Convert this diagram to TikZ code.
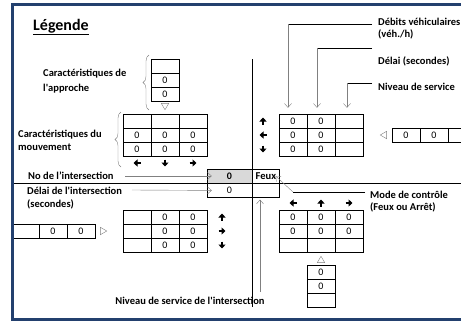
\documentclass[tikz,border=0pt]{standalone}
\usepackage{fontspec}
\setmainfont{Carlito}
\usepackage{tikz}
\usetikzlibrary{shapes.geometric, positioning, arrows.meta, calc, decorations.pathreplacing}
\definecolor{frameblue}{RGB}{35,64,110}
\definecolor{cellgray}{RGB}{217,217,217}

\begin{document}
\begin{tikzpicture}[
        x=1pt, y=-1pt,
        node distance=0pt,
        cell/.style={draw, rectangle, minimum width=28pt, minimum height=14pt, inner sep=0pt, font=\fontsize{10}{10}\selectfont},
        lbl/.style={anchor=west, align=left, inner sep=0pt, font=\bfseries\fontsize{10.5}{12.5}\selectfont},
        garr/.style={-{Straight Barb[length=4pt, width=7pt]}, gray},
        mv/.style={-{Triangle[length=4pt, width=7pt]}, line width=2.6pt},
        tri/.style={draw=gray, regular polygon, regular polygon sides=3, minimum size=8.5pt, inner sep=0pt},
        brc/.style={decorate, decoration={brace, amplitude=6pt}, gray}
    ]
    \useasboundingbox (0,0) rectangle (461,322);
    \clip (0,0) rectangle (461,322);

    % Axes
    \draw (12,183) -- (470,183);
    \draw (252,59) -- (252,307);

    % Legend title
    \node[anchor=west, inner sep=0pt, font=\bfseries\fontsize{16}{16}\selectfont] (title) at (33,27) {\underline{Légende}};

    % North approach
    \foreach \t [count=\r] in {{},0,0}
        \node[cell] (na\r) at (165,52+14*\r) {\t};
    \node[tri, shape border rotate=180] (na-tri) [below=2pt of na3] {};
    \draw[brc] (149,110) -- (149,55);
    \node[lbl] (capp) at (43,81) {Caractéristiques de\\[3pt]l\textquotesingle approche};

    % North movements
    \foreach \t [count=\r] in {{},0,0}
        \foreach \c/\x in {1/137,2/165,3/193}
            \node[cell] (nm\r\c) at (\x,107+14*\r) {\t};
    \foreach \x/\dx/\dy in {137/-1/0,165/0/1,193/1/0}
        \draw[mv] (\x-3.5*\dx,163-3.5*\dy) -- ++(7*\dx,7*\dy);
    \draw[brc] (121,167) -- (121,112);
    \node[lbl] (cmvt) at (18,140.5) {Caractéristiques du\\mouvement};

    % East movements
    \foreach \r in {1,2,3}
        \foreach \c/\x/\t in {1/293/0,2/321/0,3/349/{}}
            \node[cell] (em\r\c) at (\x,107+14*\r) {\t};
    \foreach \y/\dx/\dy in {121/0/-1,135/-1/0,149/0/1}
        \draw[mv] (263-3.5*\dx,\y-3.5*\dy) -- ++(7*\dx,7*\dy);

    % East approach
    \foreach \t [count=\c] in {0,0,{}}
        \node[cell] (ea\c) at (378+28*\c,135) {\t};
    \node[tri, shape border rotate=90] (ea-tri) [left=5pt of ea1] {};

    % West movements
    \foreach \r in {1,2,3}
        \foreach \c/\x/\t in {1/137/{},2/165/0,3/193/0}
            \node[cell] (wm\r\c) at (\x,203+14*\r) {\t};
    \foreach \y/\dx/\dy in {217/0/-1,231/1/0,245/0/1}
        \draw[mv] (222-3.5*\dx,\y-3.5*\dy) -- ++(7*\dx,7*\dy);

    % West approach
    \foreach \t [count=\c] in {{},0,0}
        \node[cell] (wa\c) at (-3+28*\c,231) {\t};
    \node[tri, shape border rotate=-90] (wa-tri) [right=5pt of wa3] {};

    % South movements
    \foreach \t [count=\r] in {0,0,{}}
        \foreach \c/\x in {1/293,2/321,3/349}
            \node[cell] (sm\r\c) at (\x,203+14*\r) {\t};
    \foreach \x/\dx/\dy in {293/-1/0,321/0/-1,349/1/0}
        \draw[mv] (\x-3.5*\dx,203-3.5*\dy) -- ++(7*\dx,7*\dy);

    % South approach
    \foreach \t [count=\r] in {0,0,{}}
        \node[cell] (sa\r) at (321,258+14*\r) {\t};
    \node[tri] (sa-tri) [above=2pt of sa1] {};

    % Intersection box
    \node[cell, minimum width=45pt, fill=cellgray, font=\bfseries\fontsize{10}{10}\selectfont] (cn) at (229.5,176) {0};
    \node[cell, minimum width=27pt, font=\bfseries\fontsize{10.5}{10.5}\selectfont] (cf) [right=of cn] {Feux};
    \node[cell, minimum width=45pt] (cd) [below=of cn] {0};
    \node[cell, minimum width=27pt] (ce) [below=of cf] {};

    % Labels
    \node[lbl] (noi) at (28,176) {No de l’intersection};
    \node[lbl] (dli) at (27,198) {Délai de l\textquotesingle intersection\\(secondes)};
    \node[lbl, anchor=center] (losi) at (190,301) {Niveau de service de l\textquotesingle intersection};
    \node[lbl] (mode) at (370,201.5) {Mode de contrôle\\(Feux ou Arrêt)};
    \node[lbl] (deb) at (378,28.5) {Débits véhiculaires\\(véh./h)};
    \node[lbl] (del) at (378,61) {Délai (secondes)};
    \node[lbl] (niv) at (378,87) {Niveau de service};

    % Connectors to the intersection box
    \coordinate (noi-s) at (125,176);
    \draw[garr, shorten >=-5pt] (noi-s) -- (cn.west);
    \coordinate (dli-s) at (132,190);
    \draw[garr, shorten >=-5pt] (dli-s) -- (cd.west);
    \coordinate (losi-s) at (260,292);
    \draw[garr, shorten >=2pt] (losi-s) -- (losi-s |- ce.south);
    \coordinate (mode-s) at (365,192);
    \coordinate (mode-k) at (293,192);
    \draw (mode-s) -- (mode-k);
    \draw[garr] (mode-k) -- ([xshift=-4pt]cf.east);

    % Connectors to the east movements
    \coordinate (deb-s) at (372,24);  \coordinate (deb-k) at (288,24);
    \coordinate (del-s) at (372,48);  \coordinate (del-k) at (317,48);
    \coordinate (niv-s) at (372,83);  \coordinate (niv-k) at (347,83);
    \draw (deb-s) -- (deb-k); \draw[garr, shorten >=6pt] (deb-k) -- (deb-k |- em11.north);
    \draw (del-s) -- (del-k); \draw[garr, shorten >=6pt] (del-k) -- (del-k |- em12.north);
    \draw (niv-s) -- (niv-k); \draw[garr, shorten >=6pt] (niv-k) -- (niv-k |- em13.north);

    % Frame
    \draw[frameblue, line width=2.5pt] (12.5,4.5) rectangle (480,319.5);

\end{tikzpicture}
\end{document}
